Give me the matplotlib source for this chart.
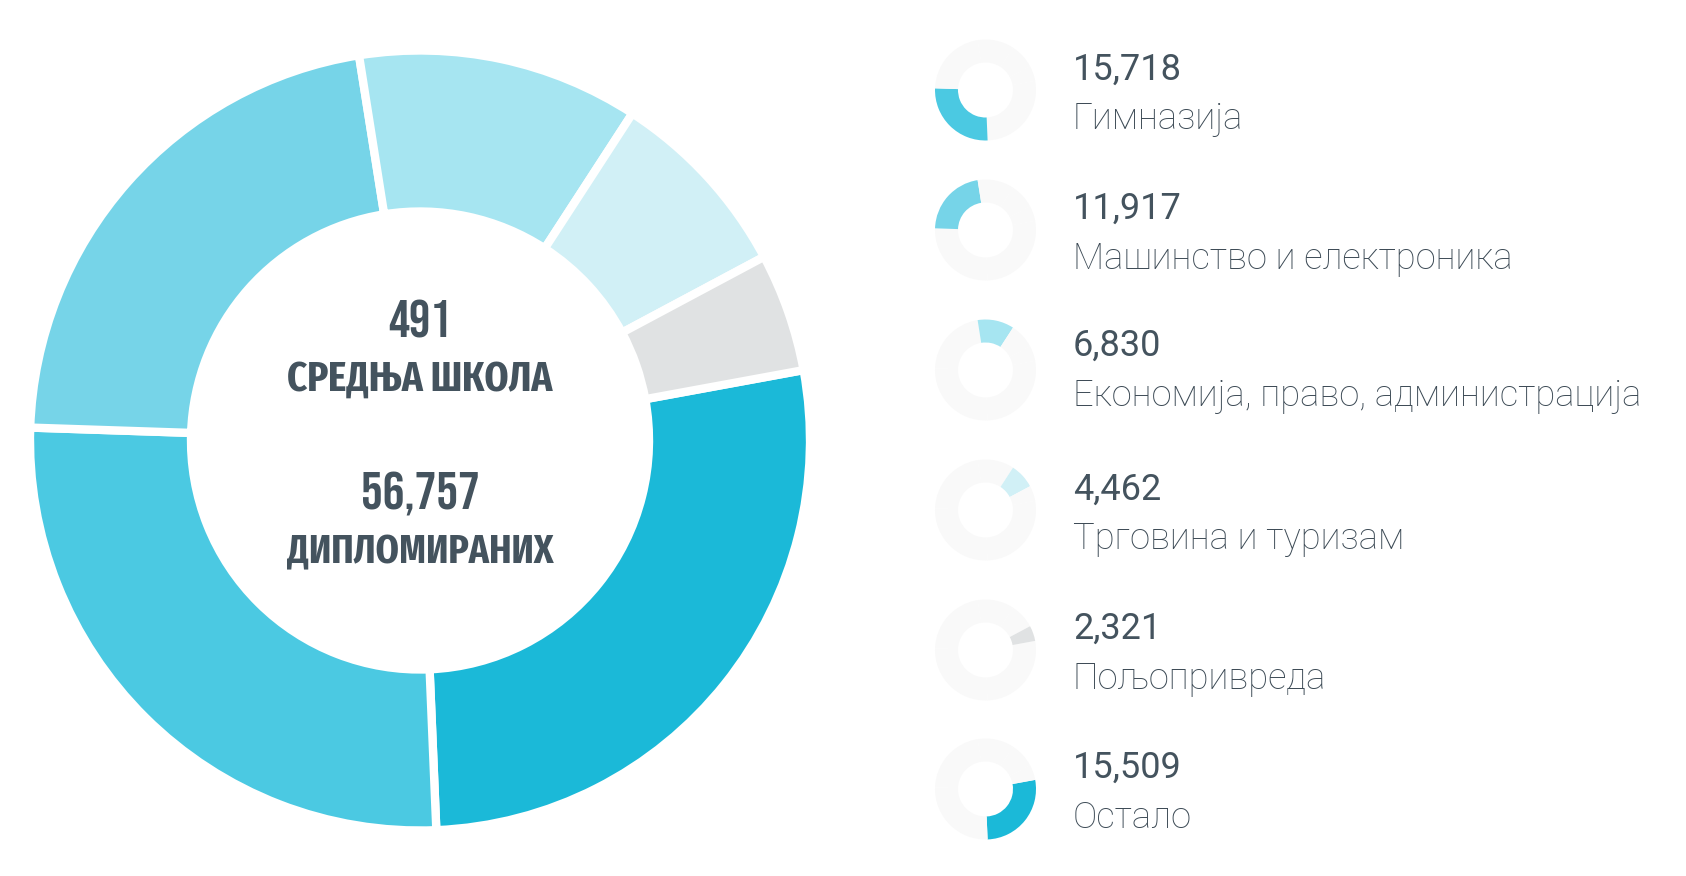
import matplotlib
matplotlib.use('Agg')
import matplotlib.pyplot as plt

# Data, clockwise from the right side
categories = ['Остало', 'Гимназија', 'Машинство и електроника',
              'Економија, право, администрација', 'Трговина и туризам', 'Пољопривреда']
# arc size of each slice in degrees as it is drawn (not quite proportional to the counts)
slice_sizes = [98.0, 94.3, 79.1, 42.0, 28.9, 17.7]
counts = ['15,509', '15,718', '11,917', '6,830', '4,462', '2,321']
colors = ['#1bb9d8', '#4bc9e2', '#76d4e8', '#a6e5f1', '#d1f0f6', '#e0e2e3']

# Order of the small rings on the right, top to bottom
legend_order = [1, 2, 3, 4, 5, 0]

schools = '491'
schools_label = 'СРЕДЊА ШКОЛА'
graduates = '56,757'
graduates_label = 'ДИПЛОМИРАНИХ'

W, H = 1686, 876
TEXT = '#44535e'
LABEL = '#3c4a55'
RING = '#f9f9f9'
START = 10.4

fig = plt.figure(figsize=(W / 100, H / 100), dpi=100, facecolor='white')
ax = fig.add_axes([0, 0, 1, 1])

# Main ring
ax.pie(slice_sizes, colors=colors, startangle=START, counterclock=False,
       center=(420, H - 440.5), radius=390,
       wedgeprops=dict(width=161, edgecolor='white', linewidth=6))

# Center text
number = dict(family=['Bebas Neue', 'DejaVu Sans'], color=TEXT, ha='center', va='baseline')
word = dict(family=['Fira Sans Extra Condensed', 'DejaVu Sans'], weight='bold',
            color=TEXT, ha='center', va='baseline')
ax.text(420, H - 337, schools, fontsize=38, **number)
ax.text(420, H - 391, schools_label, fontsize=30.2, **word)
ax.text(420, H - 510, graduates, fontsize=39, **number)
ax.text(420, H - 563, graduates_label, fontsize=29.2, **word)

# Small rings and their labels
ring_y = [90, 230, 370, 510, 650, 789]
count_y = [80, 219, 356, 500, 639, 778]
label_y = [129, 269, 406, 549, 689, 828]

for row, idx in enumerate(legend_order):
    ring_colors = [colors[i] if i == idx else RING for i in range(len(colors))]
    ax.pie(slice_sizes, colors=ring_colors, startangle=START, counterclock=False,
           center=(985.5, H - ring_y[row]), radius=50.5,
           wedgeprops=dict(width=23, linewidth=0))
    ax.text(1073, H - count_y[row], counts[idx], fontsize=26, family='Roboto',
            color=TEXT, va='baseline')
    ax.text(1073, H - label_y[row], categories[idx], fontsize=26.2, family='Roboto',
            weight='light', color=LABEL, va='baseline')

ax.set_xlim(0, W)
ax.set_ylim(0, H)
ax.set_aspect('equal')
ax.axis('off')

fig.savefig('out.png', dpi=100, facecolor='white')
